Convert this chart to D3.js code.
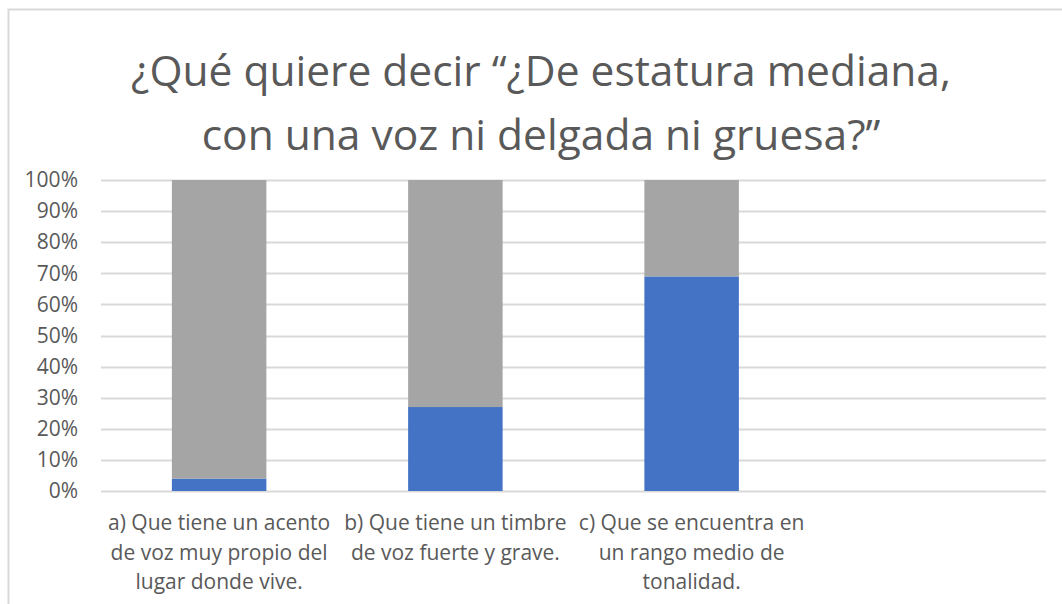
<!DOCTYPE html>
<html>
<head>
<meta charset="utf-8">
<script src="https://cdn.jsdelivr.net/npm/d3@7"></script>
<style>
  body { margin: 0; background: #fff; }
  svg { display: block; font-family: "Open Sans", sans-serif; }
</style>
</head>
<body>
<svg width="1062" height="604"></svg>
<script>
// values (100% stacked bars)
var categories = ["a", "b", "c", "d"];
var categoryLabels = [
  ["a) Que tiene un acento", "de voz muy propio del", "lugar donde vive."],
  ["b) Que tiene un timbre", "de voz fuerte y grave."],
  ["c) Que se encuentra en", "un rango medio de", "tonalidad."],
  []
];
var bluePart = [4, 27, 69, 0];
var grayPart = [96, 73, 31, 0];
var yTicks = [0, 10, 20, 30, 40, 50, 60, 70, 80, 90, 100];
var titleLines = ["¿Qué quiere decir “¿De estatura mediana,", "con una voz ni delgada ni gruesa?”"];

var svg = d3.select("svg"),
    margin = {top: 180, right: 16, bottom: 113, left: 101},
    width = +svg.attr("width") - margin.left - margin.right,
    height = +svg.attr("height") - margin.top - margin.bottom;

var textColor = "#595959";

// chart frame (only left and top edges show)
svg.append("path")
    .attr("d", "M8.5,604 V9.5 H1062")
    .attr("fill", "none")
    .attr("stroke", "#d9d9d9")
    .attr("stroke-width", 2);

svg.selectAll(".title")
  .data(titleLines)
  .enter().append("text")
    .attr("class", "title")
    .attr("x", 541)
    .attr("y", function(d, i) { return 86 + i * 64; })
    .attr("text-anchor", "middle")
    .attr("fill", textColor)
    .style("font-size", "42.5px")
    .text(function(d) { return d; });

var g = svg.append("g")
    .attr("transform", "translate(" + margin.left + "," + margin.top + ")");

var x = d3.scaleBand().domain(categories).range([0, width]).paddingInner(0.6).paddingOuter(0.3),
    y = d3.scaleLinear().domain([0, 100]).range([height, 0]);

// gridlines
g.selectAll(".grid")
  .data(yTicks)
  .enter().append("line")
    .attr("class", "grid")
    .attr("x1", 0)
    .attr("x2", width)
    .attr("y1", function(d) { return Math.round(y(d)) + 0.5; })
    .attr("y2", function(d) { return Math.round(y(d)) + 0.5; })
    .attr("stroke", "#d9d9d9")
    .attr("stroke-width", 2);

var yAxis = g.append("g")
    .call(d3.axisLeft(y).tickValues(yTicks).tickSize(0).tickPadding(23)
      .tickFormat(function(d) { return d + "%"; }));
yAxis.select(".domain").remove();
yAxis.selectAll("text")
    .attr("fill", textColor)
    .style("font-size", "21px")
    .style("font-family", "'Open Sans', sans-serif");

var stack = d3.stack().keys(["blue", "gray"]);
var rows = categories.map(function(c, i) {
  return {cat: c, blue: bluePart[i], gray: grayPart[i]};
});
var colors = {blue: "#4472c4", gray: "#a5a5a5"};

g.selectAll(".series")
  .data(stack(rows))
  .enter().append("g")
    .attr("fill", function(d) { return colors[d.key]; })
  .selectAll("rect")
  .data(function(d) { return d; })
  .enter().append("rect")
    .attr("x", function(d) { return x(d.data.cat); })
    .attr("y", function(d) { return y(d[1]); })
    .attr("width", x.bandwidth())
    .attr("height", function(d) { return y(d[0]) - y(d[1]); });

// category labels, centred on each band
var band = d3.scaleBand().domain(categories).range([0, width]);
var labels = g.selectAll(".cat")
  .data(categories)
  .enter().append("text")
    .attr("class", "cat")
    .attr("text-anchor", "middle")
    .attr("fill", textColor)
    .style("font-size", "21px")
    .attr("transform", function(d) {
      return "translate(" + (band(d) + band.bandwidth() / 2) + "," + (height + 39) + ")";
    });
labels.selectAll("tspan")
  .data(function(d, i) { return categoryLabels[i]; })
  .enter().append("tspan")
    .attr("x", 0)
    .attr("y", function(d, i) { return i * 29.5; })
    .text(function(d) { return d; });
</script>
</body>
</html>
